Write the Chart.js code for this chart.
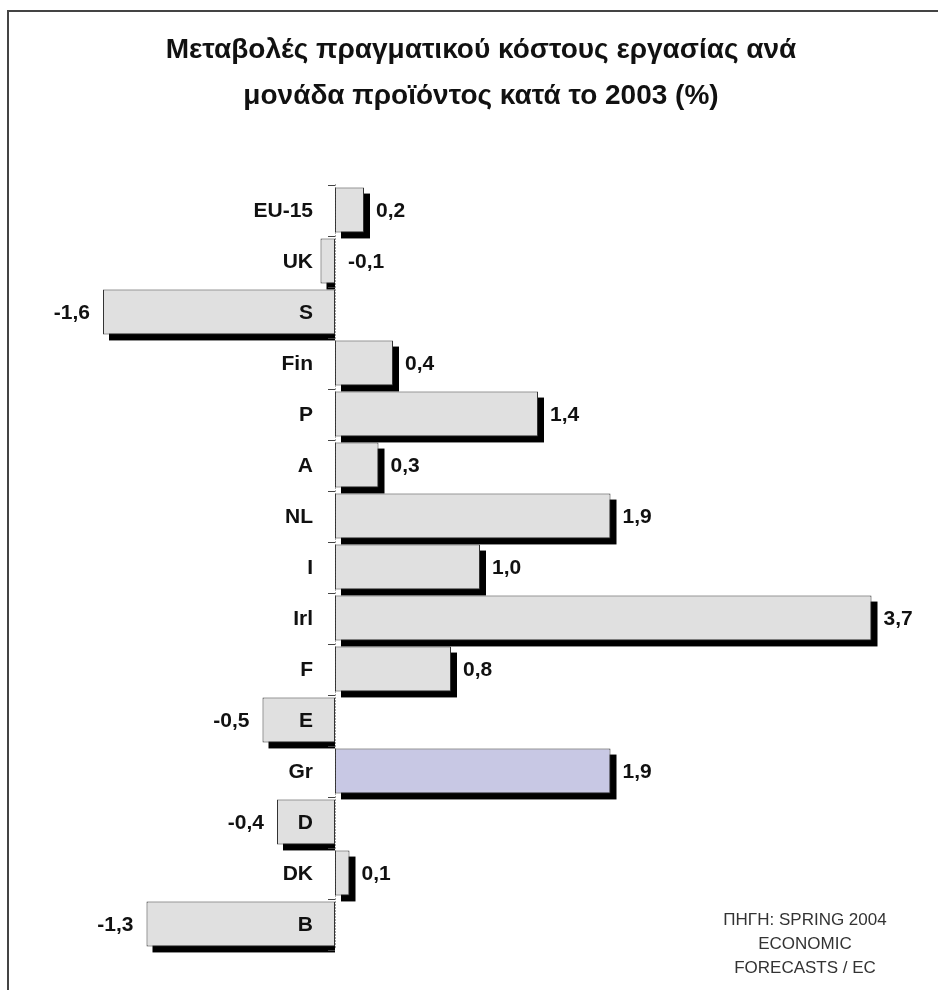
<!DOCTYPE html>
<html>
<head>
<meta charset="utf-8">
<script src="https://cdn.jsdelivr.net/npm/chart.js@4.4.1/dist/chart.umd.min.js"></script>
<style>
    body { margin: 0; background: #ffffff; }
    #wrap { position: relative; width: 938px; height: 990px; }
</style>
</head>
<body>
<div id="wrap"><canvas id="myChart"></canvas></div>
<script>
const countries = ['EU-15', 'UK', 'S', 'Fin', 'P', 'A', 'NL', 'I', 'Irl', 'F', 'E', 'Gr', 'D', 'DK', 'B'];
const changes = [0.2, -0.1, -1.6, 0.4, 1.4, 0.3, 1.9, 1.0, 3.7, 0.8, -0.5, 1.9, -0.4, 0.1, -1.3];
const highlighted = 'Gr';
const titleLines = ['Μεταβολές πραγματικού κόστους εργασίας ανά', 'μονάδα προϊόντος κατά το 2003 (%)'];
const sourceLines = ['ΠΗΓΗ: SPRING 2004', 'ECONOMIC', 'FORECASTS / EC'];

const labelFont = 'bold 21px "Liberation Sans", Arial, sans-serif';

function formatValue(v) {
    return v.toFixed(1).replace('.', ',');
}

// frame, title and source note
const decorations = {
    id: 'decorations',
    beforeDraw(chart) {
        const ctx = chart.ctx;
        ctx.save();
        ctx.strokeStyle = '#444';
        ctx.lineWidth = 2;
        ctx.strokeRect(8, 11, 1000, 1000);
        ctx.restore();
    },
    afterDraw(chart) {
        const ctx = chart.ctx;
        ctx.save();
        ctx.fillStyle = '#111';
        ctx.textAlign = 'center';
        ctx.textBaseline = 'middle';
        ctx.font = 'bold 28px "Liberation Sans", Arial, sans-serif';
        ctx.fillText(titleLines[0], 481, 50);
        ctx.fillText(titleLines[1], 481, 96);

        ctx.fillStyle = '#333';
        ctx.font = '17px "Liberation Sans", Arial, sans-serif';
        sourceLines.forEach((line, i) => {
            ctx.fillText(line, 805, 920 + i * 24);
        });
        ctx.restore();
    }
};

// black drop shadows behind the bars
const barShadows = {
    id: 'barShadows',
    beforeDatasetsDraw(chart) {
        const ctx = chart.ctx;
        const meta = chart.getDatasetMeta(0);
        ctx.save();
        ctx.fillStyle = '#000';
        meta.data.forEach((bar, i) => {
            const p = bar.getProps(['x', 'y', 'base', 'height'], true);
            const left = Math.min(p.x, p.base);
            const right = Math.max(p.x, p.base);
            const top = p.y - p.height / 2;
            const shadowRight = changes[i] < 0 ? p.base : right + 6;
            ctx.fillRect(left + 6, top + 6, shadowRight - left - 6, p.height);
        });
        ctx.restore();
    }
};

// zero axis, category labels and value labels
const barLabels = {
    id: 'barLabels',
    afterDatasetsDraw(chart) {
        const ctx = chart.ctx;
        const xScale = chart.scales.x;
        const yScale = chart.scales.y;
        const area = chart.chartArea;
        const zero = xScale.getPixelForValue(0);
        const step = (area.bottom - area.top) / countries.length;

        ctx.save();
        ctx.strokeStyle = '#444';
        ctx.lineWidth = 1;
        ctx.setLineDash([1, 2]);
        ctx.beginPath();
        ctx.moveTo(zero + 0.5, area.top);
        ctx.lineTo(zero + 0.5, area.bottom);
        ctx.stroke();
        ctx.setLineDash([]);
        ctx.beginPath();
        for (let i = 0; i <= countries.length; i++) {
            const ty = Math.round(area.top + i * step) + 0.5;
            ctx.moveTo(zero - 7, ty);
            ctx.lineTo(zero, ty);
        }
        ctx.stroke();

        ctx.font = labelFont;
        ctx.fillStyle = '#111';
        ctx.textBaseline = 'middle';
        countries.forEach((name, i) => {
            const y = yScale.getPixelForValue(i);
            ctx.textAlign = 'right';
            ctx.fillText(name, zero - 22, y + 1);

            const v = changes[i];
            const end = xScale.getPixelForValue(v);
            if (v >= 0) {
                ctx.textAlign = 'left';
                ctx.fillText(formatValue(v), end + 12, y + 1);
            } else if (zero - end < 40) {
                ctx.textAlign = 'left';
                ctx.fillText(formatValue(v), zero + 13, y + 1);
            } else {
                ctx.textAlign = 'right';
                ctx.fillText(formatValue(v), end - 13, y + 1);
            }
        });
        ctx.restore();
    }
};

const ctx = document.getElementById('myChart').getContext('2d');
const myChart = new Chart(ctx, {
    type: 'bar',
    data: {
        labels: countries,
        datasets: [{
            data: changes,
            backgroundColor: countries.map(c => c === highlighted ? 'rgb(200, 200, 228)' : 'rgb(224, 224, 224)'),
            borderColor: '#333',
            borderWidth: 1,
            borderSkipped: false,
            barPercentage: 0.88,
            categoryPercentage: 1.0
        }]
    },
    options: {
        indexAxis: 'y',
        responsive: true,
        maintainAspectRatio: false,
        animation: false,
        layout: { padding: { top: 184.5, bottom: 40.5, left: 16, right: 23 } },
        plugins: {
            legend: { display: false },
            tooltip: { enabled: false }
        },
        scales: {
            x: { display: false, min: -2.2, max: 4.0 },
            y: { display: false }
        }
    },
    plugins: [decorations, barShadows, barLabels]
});
</script>
</body>
</html>
